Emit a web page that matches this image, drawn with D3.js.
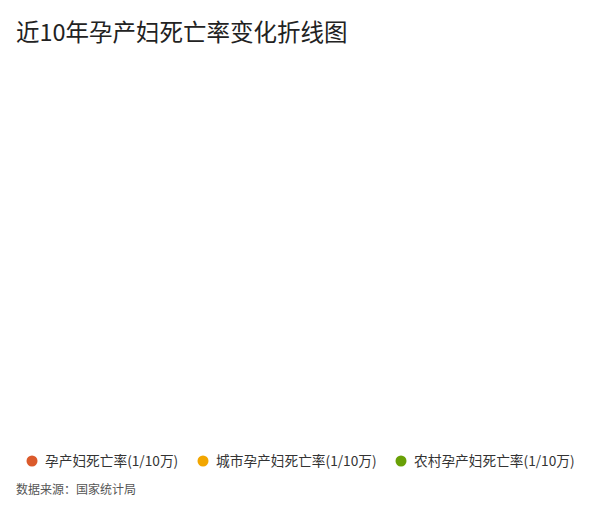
<!DOCTYPE html>
<html>
<head>
  <meta charset="utf-8" />
  <title>近10年孕产妇死亡率变化折线图</title>
  <script src="https://cdn.jsdelivr.net/npm/d3@7"></script>
  <style>
    body { margin: 0; background: #fff; }
    svg { font-family: "Noto Sans CJK SC", "Noto Sans", sans-serif; }
  </style>
</head>
<body>
  <svg id="chart" width="600" height="510"></svg>
  <script>
    // the reference shows no plotted values, only title, legend and source
    const years = [];
    const seriesNames = ["孕产妇死亡率(1/10万)", "城市孕产妇死亡率(1/10万)", "农村孕产妇死亡率(1/10万)"];
    const seriesColors = ["#db5a2b", "#f2a600", "#69a006"];
    const totalRate = [];
    const cityRate = [];
    const ruralRate = [];
    const allSeries = [totalRate, cityRate, ruralRate];

    var svg = d3.select("svg#chart");

    // title
    svg.append("text")
      .attr("x", 16)
      .attr("y", 41)
      .attr("font-size", 23.5)
      .attr("fill", "#222")
      .text("近10年孕产妇死亡率变化折线图");

    var margin = { top: 70, right: 20, bottom: 80, left: 50 },
      width = 600 - margin.left - margin.right,
      height = 510 - margin.top - margin.bottom;

    var g = svg.append("g")
      .attr("transform", "translate(" + margin.left + "," + margin.top + ")");

    var x = d3.scalePoint().domain(years).range([0, width]);
    var y = d3.scaleLinear().domain([0, 1]).range([height, 0]);

    var line = d3.line()
      .x(function (d, i) { return x(years[i]); })
      .y(function (d) { return y(d); });

    allSeries.forEach(function (s, i) {
      if (!s.length) return;
      g.append("path")
        .datum(s)
        .attr("fill", "none")
        .attr("stroke", seriesColors[i])
        .attr("stroke-width", 2)
        .attr("d", line);
    });

    // legend
    var legendX = [32, 203, 401];
    var legend = svg.append("g");
    seriesNames.forEach(function (name, i) {
      var item = legend.append("g")
        .attr("transform", "translate(" + legendX[i] + ",461)");
      item.append("circle")
        .attr("r", 5.5)
        .attr("fill", seriesColors[i]);
      item.append("text")
        .attr("x", 13)
        .attr("dy", "0.35em")
        .attr("font-size", 13.7)
        .attr("fill", "#333")
        .text(name);
    });

    // source
    svg.append("text")
      .attr("x", 16)
      .attr("y", 494)
      .attr("font-size", 12)
      .attr("fill", "#555")
      .text("数据来源：国家统计局");
  </script>
</body>
</html>
